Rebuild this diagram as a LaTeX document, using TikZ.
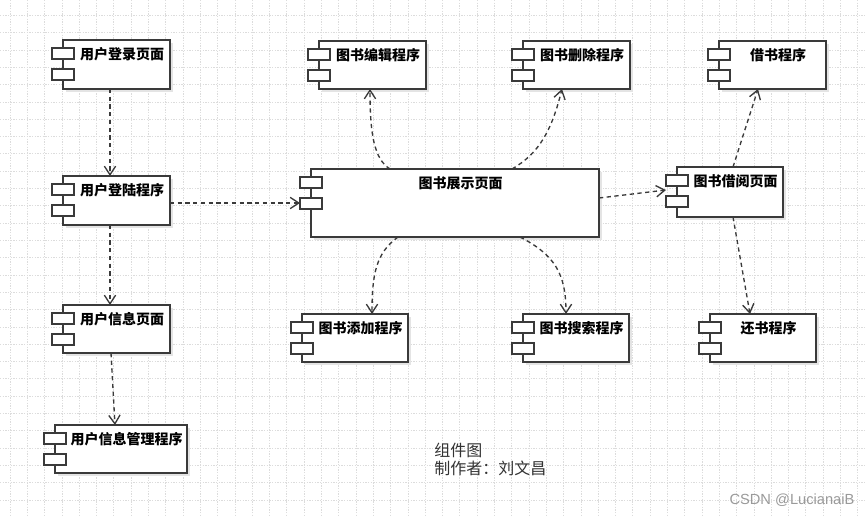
\documentclass[tikz,border=0pt]{standalone}
\usepackage{fontspec}
\newfontfamily\cjk{Noto Sans CJK SC}
\newfontfamily\wmfont{Liberation Sans}
\usetikzlibrary{arrows.meta,calc}
\definecolor{linec}{HTML}{3A3A3A}
\definecolor{gridc}{HTML}{DCDCDC}
\definecolor{shadowc}{HTML}{E4E4E4}
\definecolor{capc}{HTML}{333333}
\definecolor{wmc}{HTML}{9A9A9A}
\tikzset{
  compnode/.style={draw=linec, fill=white, line width=1.1pt, rectangle, anchor=north west, inner sep=0pt, outer sep=0pt},
  port/.style={draw=linec, fill=white, line width=1pt, rectangle, inner sep=0pt, outer sep=0pt, minimum width=16.5pt, minimum height=8.25pt},
  comptext/.style={font=\cjk\bfseries\fontsize{10.5}{12}\selectfont, inner sep=0pt, text=black},
  dep/.style={draw=linec, line width=1pt, dash pattern=on 3.2pt off 2.6pt, -{Straight Barb[length=6.5pt,width=8.5pt,line width=1pt]}},
  gridline/.style={draw=gridc, line width=0.6pt, dash pattern=on 1pt off 1pt},
}
\newcommand\compbox[6]{%
  \fill[shadowc] ({#2+3},{#3+3}) rectangle ({#2+#4+3},{#3+#5+3});
  \node[compnode, minimum width={#4*0.75pt}, minimum height={#5*0.75pt}] (#1) at (#2,#3) {};
  \node[port] (#1-p1) at ({#2},{#3+13.5}) {};
  \node[port] (#1-p2) at ({#2},{#3+34.5}) {};
  \node[comptext] (#1-t) at ({#2+11+(#4-11)/2},{#3+14}) {#6};
}
\begin{document}
\begin{tikzpicture}[x=0.75pt,y=-0.75pt]
\useasboundingbox (0,0) rectangle (865,517);
\fill[white] (0,0) rectangle (865,517);
% grid
\foreach \i in {0,...,49} {
  \draw[gridline] ({10+\i*17.3},0) -- ({10+\i*17.3},517);
}
\foreach \j in {0,...,29} {
  \draw[gridline] (0,{15.5+\j*17.3}) -- (865,{15.5+\j*17.3});
}
% components
\compbox{login}{63}{40}{107}{49}{用户登录页面}
\compbox{loginprog}{63}{176}{107}{49}{用户登陆程序}
\compbox{info}{63}{305}{107}{48}{用户信息页面}
\compbox{infomgr}{55}{425}{132}{48}{用户信息管理程序}
\compbox{edit}{319}{41}{107}{48}{图书编辑程序}
\compbox{del}{523}{41}{107}{48}{图书删除程序}
\compbox{borrow}{719}{41}{107}{48}{借书程序}
\compbox{show}{311}{169}{288}{68}{图书展示页面}
\compbox{borrowpage}{677}{167}{106}{50}{图书借阅页面}
\compbox{add}{302}{314}{106}{48}{图书添加程序}
\compbox{search}{523}{314}{106}{48}{图书搜索程序}
\compbox{return}{710}{314}{106}{48}{还书程序}
% connectors
\draw[dep] ($(login.south west)+(47,0)$) -- ($(loginprog.north west)+(47,0)$);
\draw[dep] ($(loginprog.south west)+(47,0)$) -- ($(info.north west)+(47,0)$);
\draw[dep] ($(info.south west)+(48,0)$) -- ($(infomgr.north west)+(60,0)$);
\draw[dep] ($(loginprog.north east)+(0,27)$) -- ($(show-p2.west)+(0,-0.5)$);
\draw[dep] ($(show.north east)+(0,29)$) -- ($(borrowpage-p1.south west)+(0,4)$);
\draw[dep] ($(show.north west)+(79,0)$) .. controls +(-16,-10) and +(0,45) .. ($(edit.south west)+(51,0)$);
\draw[dep] ($(show.north west)+(201,0)$) .. controls +(28,-16) and +(-10,40) .. ($(del.south west)+(39,0)$);
\draw[dep] ($(borrowpage.north west)+(56,0)$) -- ($(borrow.south west)+(39,0)$);
\draw[dep] ($(show.south west)+(87,0)$) .. controls +(-22,16) and +(0,-40) .. ($(add.north west)+(70,0)$);
\draw[dep] ($(show.south west)+(209,0)$) .. controls +(35,18) and +(0,-40) .. ($(search.north west)+(43,0)$);
\draw[dep] ($(borrowpage.south west)+(56,0)$) -- ($(return.north west)+(40,0)$);
% caption
\node[anchor=north west, align=left, inner sep=0pt, text=capc, font=\cjk\fontsize{12}{13.5}\selectfont] (cap) at (434,443) {组件图\\制作者：刘文昌};
% watermark
\node[text=wmc, inner sep=0pt, font=\wmfont\fontsize{11}{13}\selectfont] (wm) at (792,500) {CSDN @LucianaiB};
\end{tikzpicture}
\end{document}
